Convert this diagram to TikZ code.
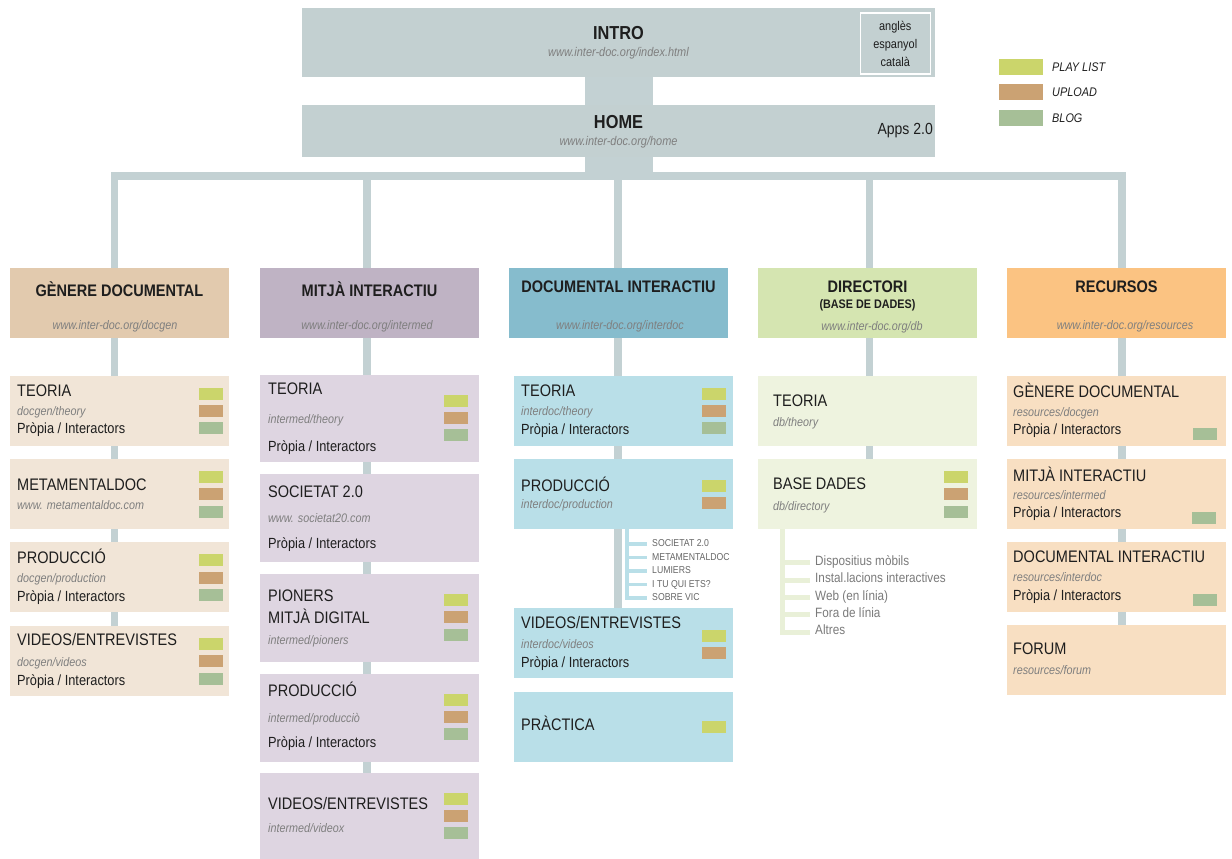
\documentclass[tikz,border=0pt]{standalone}
\usepackage{fontspec}
\setmainfont{Liberation Sans}[FakeStretch=0.87]
\usetikzlibrary{calc}
\pgfdeclarelayer{background}
\pgfsetlayers{background,main}

\definecolor{connc}{HTML}{C3D1D3}
\definecolor{introc}{HTML}{C3D0D1}
\definecolor{txtc}{HTML}{1E1E1E}
\definecolor{urlc}{HTML}{7F7F7F}
\definecolor{h1c}{HTML}{E2CAAE}
\definecolor{c1c}{HTML}{F1E5D7}
\definecolor{h2c}{HTML}{BFB3C4}
\definecolor{c2c}{HTML}{DED5E1}
\definecolor{h3c}{HTML}{86BCCD}
\definecolor{c3c}{HTML}{B9DFE8}
\definecolor{h4c}{HTML}{D5E5B1}
\definecolor{c4c}{HTML}{EEF3DF}
\definecolor{l4c}{HTML}{E9F0D8}
\definecolor{h5c}{HTML}{FBC382}
\definecolor{c5c}{HTML}{F8DFC2}
\definecolor{playc}{HTML}{CBD56B}
\definecolor{uplc}{HTML}{CBA273}
\definecolor{blogc}{HTML}{A6BF97}

\tikzset{
  conn/.style={draw=connc, line width=7.5},
  topbox/.style={fill=introc, minimum width=633, anchor=north west, inner sep=0},
  hbox/.style={fill=#1, minimum width=219, minimum height=70, anchor=north west, inner sep=0},
  cbox/.style={fill=#1, minimum width=219, anchor=north west, inner sep=0},
  tag/.style={fill=#1, minimum width=24, minimum height=12.5, inner sep=0},
  big/.style={font=\bfseries\fontsize{18.8}{20}\selectfont, text=txtc, inner sep=0},
  hd/.style={font=\bfseries\fontsize{16.7}{18}\selectfont, text=txtc, inner sep=0},
  nm/.style={font=\fontsize{16.7}{18}\selectfont, text=txtc, inner sep=0},
  sub/.style={font=\fontsize{14.7}{16}\selectfont, text=txtc, inner sep=0},
  urlt/.style={font=\itshape\fontsize{12.4}{14}\selectfont, text=urlc, inner sep=0},
  lft/.style={anchor=mid west, yshift=-2},
}

\begin{document}
\begin{tikzpicture}[x=1pt,y=-1pt]
\useasboundingbox (0,0) rectangle (1232,859);

% intro and home
\node[topbox, minimum height=69] (intro) at (302,8) {};
\node[big] (introt) at (618.5,33) {INTRO};
\node[urlt, font=\itshape\fontsize{12.6}{14}\selectfont] (introu) at (618.5,53) {www.inter-doc.org/index.html};
\node[draw=white, line width=1.5, minimum width=70, minimum height=61, anchor=north west, inner sep=0,
      align=center, font=\fontsize{12.6}{18}\selectfont, text=txtc] (langs) at (859.5,12.5) {anglès\\espanyol\\català};

\node[topbox, minimum height=52] (home) at (302,105) {};
\node[big] (homet) at (618.5,122) {HOME};
\node[urlt, font=\itshape\fontsize{12.6}{14}\selectfont] (homeu) at (618.5,142) {www.inter-doc.org/home};
\node[font=\fontsize{16.1}{18}\selectfont, text=txtc, anchor=mid east, inner sep=0, yshift=-2] (apps) at (933,130) {Apps 2.0};

% legend
\node[tag=playc, minimum width=44, minimum height=16] (lp) at (1021,67) {};
\node[font=\itshape\fontsize{12.5}{14}\selectfont, text=txtc, inner sep=0, lft] (lpt) at (1052,67) {PLAY LIST};
\node[tag=uplc, minimum width=44, minimum height=16] (lu) at (1021,92) {};
\node[font=\itshape\fontsize{12.5}{14}\selectfont, text=txtc, inner sep=0, lft] (lut) at (1052,92) {UPLOAD};
\node[tag=blogc, minimum width=44, minimum height=16] (lb) at (1021,118) {};
\node[font=\itshape\fontsize{12.5}{14}\selectfont, text=txtc, inner sep=0, lft] (lbt) at (1052,118) {BLOG};

\coordinate (j1) at (114.5,176);
\coordinate (j2) at (367,176);
\coordinate (j3) at (618,176);
\coordinate (j4) at (869.5,176);
\coordinate (j5) at (1122,176);

% headers
\node[hbox=h1c] (h1) at (10,268) {};
\node[hd] (h1t) at (119.5,289) {GÈNERE DOCUMENTAL};
\node[urlt] (h1u) at (115,326) {www.inter-doc.org/docgen};
\node[hbox=h2c] (h2) at (260,268) {};
\node[hd] (h2t) at (369.5,289) {MITJÀ INTERACTIU};
\node[urlt] (h2u) at (367,326) {www.inter-doc.org/intermed};
\node[hbox=h3c] (h3) at (509,268) {};
\node[hd] (h3t) at (618.5,287) {DOCUMENTAL INTERACTIU};
\node[urlt] (h3u) at (620,326) {www.inter-doc.org/interdoc};
\node[hbox=h4c] (h4) at (758,268) {};
\node[hd] (h4t) at (867.5,287) {DIRECTORI};
\node[hd, font=\bfseries\fontsize{12.4}{14}\selectfont] (h4s) at (867.5,305) {(BASE DE DADES)};
\node[urlt] (h4u) at (872,327) {www.inter-doc.org/db};
\node[hbox=h5c] (h5) at (1007,268) {};
\node[hd] (h5t) at (1116.5,287) {RECURSOS};
\node[urlt] (h5u) at (1125,326) {www.inter-doc.org/resources};

% genere documental
\node[cbox=c1c, minimum height=70] (g1) at (10,376) {};
\node[nm, lft] (g1t) at (17,392) {TEORIA};
\node[urlt, lft] (g1u) at (17,411) {docgen/theory};
\node[sub, lft] (g1s) at (17,429) {Pròpia / Interactors};
\node[tag=playc] (g1a) at (211,394) {};
\node[tag=uplc] (g1b) at (211,411) {};
\node[tag=blogc] (g1c) at (211,428) {};

\node[cbox=c1c, minimum height=70] (g2) at (10,459) {};
\node[nm, lft] (g2t) at (17,486) {METAMENTALDOC};
\node[urlt, lft] (g2u) at (17,505) {www. metamentaldoc.com};
\node[tag=playc] (g2a) at (211,477) {};
\node[tag=uplc] (g2b) at (211,494) {};
\node[tag=blogc] (g2c) at (211,512) {};

\node[cbox=c1c, minimum height=70] (g3) at (10,542) {};
\node[nm, lft] (g3t) at (17,559) {PRODUCCIÓ};
\node[urlt, lft] (g3u) at (17,578) {docgen/production};
\node[sub, lft] (g3s) at (17,597) {Pròpia / Interactors};
\node[tag=playc] (g3a) at (211,560) {};
\node[tag=uplc] (g3b) at (211,578) {};
\node[tag=blogc] (g3c) at (211,595) {};

\node[cbox=c1c, minimum height=70] (g4) at (10,626) {};
\node[nm, lft] (g4t) at (17,641) {VIDEOS/ENTREVISTES};
\node[urlt, lft] (g4u) at (17,662) {docgen/videos};
\node[sub, lft] (g4s) at (17,681) {Pròpia / Interactors};
\node[tag=playc] (g4a) at (211,644) {};
\node[tag=uplc] (g4b) at (211,661) {};
\node[tag=blogc] (g4c) at (211,679) {};

% mitja interactiu
\node[cbox=c2c, minimum height=87] (m1) at (260,375) {};
\node[nm, lft] (m1t) at (268,390) {TEORIA};
\node[urlt, lft] (m1u) at (268,419) {intermed/theory};
\node[sub, lft] (m1s) at (268,447) {Pròpia / Interactors};
\node[tag=playc] (m1a) at (455.5,401) {};
\node[tag=uplc] (m1b) at (455.5,418) {};
\node[tag=blogc] (m1c) at (455.5,435) {};

\node[cbox=c2c, minimum height=88] (m2) at (260,474) {};
\node[nm, lft] (m2t) at (268,493) {SOCIETAT 2.0};
\node[urlt, lft] (m2u) at (268,518) {www. societat20.com};
\node[sub, lft] (m2s) at (268,544) {Pròpia / Interactors};

\node[cbox=c2c, minimum height=88] (m3) at (260,574) {};
\node[nm, lft] (m3t) at (268,597) {PIONERS};
\node[nm, lft] (m3v) at (268,619) {MITJÀ DIGITAL};
\node[urlt, lft] (m3u) at (268,640) {intermed/pioners};
\node[tag=playc] (m3a) at (455.5,600) {};
\node[tag=uplc] (m3b) at (455.5,617) {};
\node[tag=blogc] (m3c) at (455.5,635) {};

\node[cbox=c2c, minimum height=88] (m4) at (260,674) {};
\node[nm, lft] (m4t) at (268,692) {PRODUCCIÓ};
\node[urlt, lft] (m4u) at (268,718) {intermed/producciò};
\node[sub, lft] (m4s) at (268,743) {Pròpia / Interactors};
\node[tag=playc] (m4a) at (455.5,700) {};
\node[tag=uplc] (m4b) at (455.5,717) {};
\node[tag=blogc] (m4c) at (455.5,734) {};

\node[cbox=c2c, minimum height=86] (m5) at (260,773) {};
\node[nm, lft] (m5t) at (268,805) {VIDEOS/ENTREVISTES};
\node[urlt, lft] (m5u) at (268,828) {intermed/videox};
\node[tag=playc] (m5a) at (455.5,799) {};
\node[tag=uplc] (m5b) at (455.5,816) {};
\node[tag=blogc] (m5c) at (455.5,833) {};

% documental interactiu
\node[cbox=c3c, minimum height=70] (d1) at (514,376) {};
\node[nm, lft] (d1t) at (521,392) {TEORIA};
\node[urlt, lft] (d1u) at (521,411) {interdoc/theory};
\node[sub, lft] (d1s) at (521,430) {Pròpia / Interactors};
\node[tag=playc] (d1a) at (714,394) {};
\node[tag=uplc] (d1b) at (714,411) {};
\node[tag=blogc] (d1c) at (714,428) {};

\node[cbox=c3c, minimum height=70] (d2) at (514,459) {};
\node[nm, lft] (d2t) at (521,487) {PRODUCCIÓ};
\node[urlt, lft] (d2u) at (521,504) {interdoc/production};
\node[tag=playc] (d2a) at (714,486) {};
\node[tag=uplc] (d2b) at (714,503) {};

\node[cbox=c3c, minimum height=70] (d3) at (514,608) {};
\node[nm, lft] (d3t) at (521,624) {VIDEOS/ENTREVISTES};
\node[urlt, lft] (d3u) at (521,644) {interdoc/videos};
\node[sub, lft] (d3s) at (521,663) {Pròpia / Interactors};
\node[tag=playc] (d3a) at (714,636) {};
\node[tag=uplc] (d3b) at (714,653) {};

\node[cbox=c3c, minimum height=70] (d4) at (514,692) {};
\node[nm, lft] (d4t) at (521,726) {PRÀCTICA};
\node[tag=playc] (d4a) at (714,727) {};

% productions list
\coordinate (k3) at ([xshift=3.5]d2.south);
\foreach \t [count=\i] in {SOCIETAT 2.0, METAMENTALDOC, LUMIERS, I TU QUI ETS?, SOBRE VIC}
  \node[font=\fontsize{10}{12}\selectfont, text=black!60, inner sep=0, lft] (p\i) at (652,528.4+13.5*\i) {\t};
\draw[c3c, line width=3.5] (k3) -- (k3 |- p5.mid west) -- ([xshift=-5]p5.mid west);
\foreach \i in {1,...,4}
  \draw[c3c, line width=3.5] (k3 |- p\i.mid west) -- ([xshift=-5]p\i.mid west);

% directori
\node[cbox=c4c, minimum height=70] (r1) at (758,376) {};
\node[nm, lft] (r1t) at (773,402) {TEORIA};
\node[urlt, lft] (r1u) at (773,422) {db/theory};

\node[cbox=c4c, minimum height=70] (r2) at (758,459) {};
\node[nm, lft] (r2t) at (773,485) {BASE DADES};
\node[urlt, lft] (r2u) at (773,506) {db/directory};
\node[tag=playc] (r2a) at (955.5,477) {};
\node[tag=uplc] (r2b) at (955.5,494) {};
\node[tag=blogc] (r2c) at (955.5,512) {};

% directori list
\coordinate (k4) at ([xshift=24]r2.south west);
\foreach \t [count=\i] in {Dispositius mòbils, Instal.lacions interactives, Web (en línia), Fora de línia, Altres}
  \node[font=\fontsize{13.5}{15}\selectfont, text=black!52, inner sep=0, lft] (q\i) at (815,543.6+17.3*\i) {\t};
\draw[l4c, line width=5] (k4) -- (k4 |- q5.mid west) -- ([xshift=-5]q5.mid west);
\foreach \i in {1,...,4}
  \draw[l4c, line width=5] (k4 |- q\i.mid west) -- ([xshift=-5]q\i.mid west);

% recursos
\node[cbox=c5c, minimum height=70] (s1) at (1007,376) {};
\node[nm, lft] (s1t) at (1013,393) {GÈNERE DOCUMENTAL};
\node[urlt, lft] (s1u) at (1013,412) {resources/docgen};
\node[sub, lft] (s1s) at (1013,430) {Pròpia / Interactors};
\node[tag=blogc] (s1c) at (1205,434) {};

\node[cbox=c5c, minimum height=70] (s2) at (1007,459) {};
\node[nm, lft] (s2t) at (1013,477) {MITJÀ INTERACTIU};
\node[urlt, lft] (s2u) at (1013,495) {resources/intermed};
\node[sub, lft] (s2s) at (1013,513) {Pròpia / Interactors};
\node[tag=blogc] (s2c) at (1204,518) {};

\node[cbox=c5c, minimum height=70] (s3) at (1007,542) {};
\node[nm, lft] (s3t) at (1013,558) {DOCUMENTAL INTERACTIU};
\node[urlt, lft] (s3u) at (1013,577) {resources/interdoc};
\node[sub, lft] (s3s) at (1013,596) {Pròpia / Interactors};
\node[tag=blogc] (s3c) at (1205,600) {};

\node[cbox=c5c, minimum height=70] (s4) at (1007,625) {};
\node[nm, lft] (s4t) at (1013,650) {FORUM};
\node[urlt, lft] (s4u) at (1013,670) {resources/forum};

% connectors behind the boxes
\begin{pgfonlayer}{background}
  \draw[connc, line width=68] (intro.south) -- (home.north);
  \draw[connc, line width=68] (home.south) -- (home.south |- j3);
  \draw[conn, line cap=rect] (j1) -- (j5);
  \draw[conn] (j1) -- (j1 |- g4.north);
  \draw[conn] (j2) -- (j2 |- m5.north);
  \draw[conn] (j3) -- (j3 |- d3.north);
  \draw[conn] (j4) -- (j4 |- r2.north);
  \draw[conn] (j5) -- (j5 |- s4.north);
\end{pgfonlayer}
\end{tikzpicture}
\end{document}
